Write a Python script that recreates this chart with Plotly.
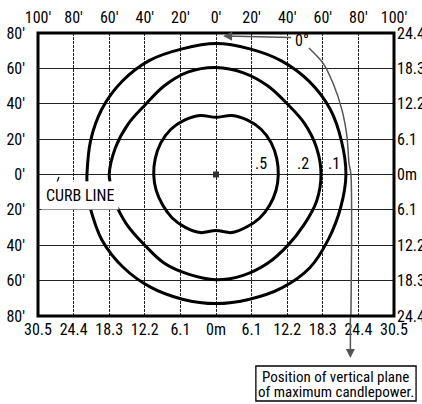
import plotly.graph_objects as go

# ---------------- data (feet) ----------------
ft_ticks = [-100, -80, -60, -40, -20, 0, 20, 40, 60, 80, 100]
ft_top_labels = ["100'", "80'", "60'", "40'", "20'", "0'", "20'", "40'", "60'", "80'", "100'"]
m_bottom_labels = ["30.5", "24.4", "18.3", "12.2", "6.1", "0m", "6.1", "12.2", "18.3", "24.4", "30.5"]
ft_y_ticks = [-80, -60, -40, -20, 0, 20, 40, 60, 80]
ft_left_labels = ["80'", "60'", "40'", "20'", "0'", "20'", "40'", "60'", "80'"]
m_right_labels = ["24.4", "18.3", "12.2", "6.1", "0m", "6.1", "12.2", "18.3", "24.4"]

# contour .5 (inner, closed; starts at the top dimple)
c05_x = [0, -8.96, -17.75, -25.46, -31.0, -34.1, -35, -33.6, -29.96, -24.6, -17.25, -8.8, 0,
         8.8, 17.15, 24.6, 30.14, 33.7, 35, 34.1, 31.0, 25.46, 17.75, 8.96, 0]
c05_y = [32.3, 33.4, 30.74, 25.46, 17.9, 9.14, 0, -9.0, -17.3, -24.6, -29.88, -32.84, -31.6,
         -32.84, -29.7, -24.6, -17.4, -9.03, 0, 9.14, 17.9, 25.46, 30.74, 33.4, 32.3]
# contour .2 (middle, broken at the curb line)
c02_x = [-55.6, -49.8, -40, -29, -15.1, 0, 15.3, 29, 40.2, 49.4, 56.5, 59,
         56.5, 49.8, 40, 29, 15.4, 0, -15.5, -29, -39.6, -49.4, -56.5, -60, -59.5]
c02_y = [-18.4, -28.75, -40, -50.2, -56.5, -59.5, -57, -50.2, -40.2, -28.5, -15.1, 0,
         15.1, 28.75, 40, 50.2, 57.5, 60.5, 58, 50.2, 39.6, 28.5, 15.1, 0, -4]
# contour .1 (outer, broken at the curb line)
c01_x = [-70.8, -64.1, -52.3, -36.8, -18.9, 0, 18.9, 37, 52.7, 63.2, 70, 73,
         70.5, 64.1, 52.5, 37, 19, 0, -19, -37.3, -52.7, -64.1, -70.5, -72.5, -72.5]
c01_y = [-18.4, -37, -52.3, -63.7, -70.5, -73, -70.5, -64.1, -52.7, -36.5, -18.8, 0,
         18.9, 37, 52.5, 64.1, 71, 74, 71, 64.5, 52.7, 37, 18.9, 0, -4]
contour_labels = [".5", ".2", ".1"]
label_x = [25.3, 48.9, 66.3]
label_y = [5.4, 5.4, 5.4]

# vertical plane of max candlepower (curved pointer)
plane_x = [52.2, 60.1, 65.7, 70.8, 73.6, 74.7, 75.8, 75.8]
plane_y = [71.5, 63, 51.7, 36.4, 21.2, 6.5, 0, -80]

center_x = [0]
center_y = [0]

FONT = "Liberation Sans Narrow, Arial Narrow, Roboto Condensed, Liberation Sans, Arial, sans-serif"

fig = go.Figure()

for cx, cy in [(c01_x, c01_y), (c02_x, c02_y), (c05_x, c05_y)]:
    fig.add_trace(go.Scatter(x=cx, y=cy, mode="lines",
                             line=dict(color="black", width=3, shape="spline", smoothing=1),
                             hoverinfo="skip", showlegend=False))

fig.add_trace(go.Scatter(x=plane_x, y=plane_y, mode="lines",
                         line=dict(color="#555555", width=1.5, shape="spline", smoothing=0.8),
                         hoverinfo="skip", showlegend=False))

fig.add_trace(go.Scatter(x=label_x, y=label_y, mode="text", text=contour_labels,
                         textfont=dict(family=FONT, size=16, color="black"),
                         hoverinfo="skip", showlegend=False))

fig.add_trace(go.Scatter(x=center_x, y=center_y, mode="markers", xaxis="x2", yaxis="y2",
                         marker=dict(symbol="square", size=6, color="#333333"),
                         hoverinfo="skip", showlegend=False))

tickfont = dict(family=FONT, size=16, color="black")

fig.update_layout(
    width=422, height=404,
    margin=dict(l=38, r=28, t=33, b=88, pad=0, autoexpand=False),
    plot_bgcolor="white", paper_bgcolor="white",
    showlegend=False,
    xaxis=dict(range=[-100, 100], tickvals=ft_ticks, ticktext=m_bottom_labels, side="bottom",
               showgrid=True, griddash="3px,1px", gridcolor="#222222", gridwidth=1.2,
               zeroline=False, ticks="", ticklen=0, tickfont=tickfont, ticklabelstandoff=2,
               automargin=False, fixedrange=True),
    xaxis2=dict(range=[-100, 100], tickvals=ft_ticks, ticktext=ft_top_labels, side="top", overlaying="x",
                showgrid=False, tickfont=tickfont, ticklabelstandoff=6, zeroline=False, ticks="", ticklen=0,
                automargin=False, fixedrange=True),
    yaxis=dict(range=[-80, 80], tickvals=ft_y_ticks, ticktext=ft_left_labels, side="left",
               showgrid=True, gridcolor="#222222", gridwidth=1.2, zeroline=False, ticks="", ticklen=0,
               tickfont=tickfont, ticklabelstandoff=12, automargin=False, fixedrange=True),
    yaxis2=dict(range=[-80, 80], tickvals=ft_y_ticks, ticktext=m_right_labels, side="right", overlaying="y",
                showgrid=False, tickfont=tickfont, ticklabelstandoff=2, zeroline=False, ticks="", ticklen=0,
                automargin=False, fixedrange=True),
    shapes=[
        dict(type="rect", xref="paper", yref="paper", x0=0, x1=1, y0=0, y1=1,
             line=dict(color="black", width=3)),
        dict(type="line", xref="x", yref="y", x0=-88.2, y0=-1.4, x1=-89.9, y1=-5.9,
             line=dict(color="black", width=1.2)),
        dict(type="rect", xref="paper", yref="paper", x0=0.612, x1=1.062, y0=-0.3004, y1=-0.1767,
             line=dict(color="black", width=1.3), fillcolor="white"),
    ],
    annotations=[
        dict(x=-76.4, y=-11.6, xref="x", yref="y", text="CURB LINE", showarrow=False,
             font=dict(family=FONT, size=16, color="black"), bgcolor="white", borderpad=4),
        dict(x=48.3, y=76, xref="x", yref="y", text="0°", showarrow=False,
             font=dict(family=FONT, size=16, color="black")),
        dict(x=4, y=78.3, xref="x", yref="y", ax=43, ay=77.5, axref="x", ayref="y", text="",
             showarrow=True, arrowhead=2, arrowsize=1.2, arrowwidth=1.5, arrowcolor="#555555"),
        dict(x=75.5, y=-0.148, xref="x", yref="paper", ax=0, ay=-42, text="",
             showarrow=True, arrowhead=2, arrowsize=1.2, arrowwidth=1.5, arrowcolor="#555555"),
        dict(x=0.837, y=-0.2155, xref="paper", yref="paper", xanchor="center", yanchor="middle",
             text="Position of vertical plane", showarrow=False,
             font=dict(family=FONT, size=15, color="black")),
        dict(x=0.837, y=-0.2686, xref="paper", yref="paper", xanchor="center", yanchor="middle",
             text="of maximum candlepower.", showarrow=False,
             font=dict(family=FONT, size=15, color="black")),
    ],
)

fig.write_html("out.html", post_script="document.body.style.margin='0';",
               config={"displayModeBar": False})
